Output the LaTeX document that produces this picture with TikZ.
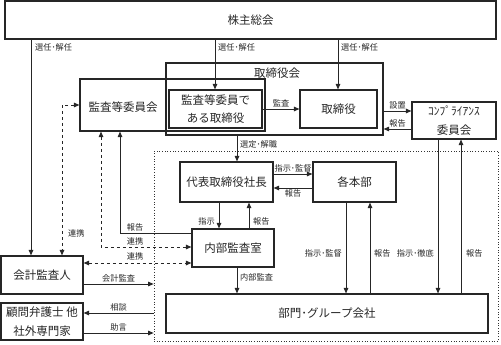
\documentclass[tikz,border=0pt]{standalone}
\usepackage{fontspec}
\setmainfont{Noto Sans CJK JP}
\usetikzlibrary{arrows.meta}
\tikzset{
  box/.style={draw=black!85, line width=1.1pt, inner sep=0pt, align=center,
    font=\fontsize{11.5}{18.5}\selectfont, text=black!85},
  grp/.style={draw=black!80, line width=0.7pt, dotted, inner sep=0pt},
  lbl/.style={font=\fontsize{8.2}{9}\selectfont, inner sep=1pt, text=black!85},
  arr/.style={draw=black!85, line width=0.9pt, -{Triangle[length=5.5pt,width=4.5pt]}},
  darr/.style={draw=black!85, line width=0.9pt, dashed, dash pattern=on 3.5pt off 2.5pt,
    {Triangle[length=5.5pt,width=4.5pt]}-{Triangle[length=5.5pt,width=4.5pt]}},
  ln/.style={draw=black!85, line width=0.9pt}
}
\begin{document}
\begin{tikzpicture}[x=1pt,y=-1pt]
\useasboundingbox (0,0) rectangle (501,345);
% boxes
\node[box, minimum width=491pt, minimum height=38pt] (kabu) at (250.5,20) {株主総会};
\node[box, minimum width=217pt, minimum height=72pt] (torikai) at (274.5,99) {};
\node[box, font=\fontsize{11.5}{14}\selectfont, draw=none] (torikailbl) at (277,73) {取締役会};
\node[box, minimum width=185pt, minimum height=52pt] (kansakai) at (172.5,105) {};
\node[box, draw=none] (kansakailbl) at (123,107) {監査等委員会};
\node[box, minimum width=93pt, minimum height=38pt] (inner) at (215.5,109) {監査等委員で\\ある取締役};
\node[box, minimum width=77pt, minimum height=38pt] (tori) at (338.5,109) {取締役};
\node[box, minimum width=84pt, minimum height=37pt] (comp) at (454,120.5) {ｺﾝﾌﾟﾗｲｱﾝｽ\\委員会};
\node[grp, minimum width=344pt, minimum height=190pt] (grp) at (326,246) {};
\node[box, minimum width=93pt, minimum height=40pt] (shacho) at (226.5,182) {代表取締役社長};
\node[box, minimum width=83pt, minimum height=40pt] (honbu) at (354.5,182) {各本部};
\node[box, minimum width=82pt, minimum height=38pt] (naibu) at (233,248) {内部監査室};
\node[box, minimum width=82pt, minimum height=38pt] (kaikei) at (42,275) {会計監査人};
\node[box, minimum width=82pt, minimum height=37pt] (komon) at (42,321.5) {顧問弁護士 他\\社外専門家};
\node[box, minimum width=322pt, minimum height=39pt] (bumon) at (327,313.5) {部門･グループ会社};
% helper coordinates
\coordinate (x31) at (31,0);
\coordinate (x215) at (215,0);
\coordinate (x338) at (338,0);
\coordinate (y111) at (0,111);
\coordinate (y129) at (0,129);
\coordinate (x237) at (237,0);
\coordinate (y174) at (0,174);
\coordinate (y188) at (0,188);
\coordinate (x219) at (219,0);
\coordinate (x249) at (249,0);
\coordinate (y233) at (0,233);
\coordinate (x120) at (120,0);
\coordinate (y247) at (0,247);
\coordinate (x101) at (101,0);
\coordinate (y263) at (0,263);
\coordinate (y105) at (0,105);
\coordinate (x62) at (62,0);
\coordinate (y284) at (0,284);
\coordinate (y313) at (0,313);
\coordinate (y333) at (0,333);
\coordinate (x346) at (346,0);
\coordinate (x370) at (370,0);
\coordinate (x438) at (438,0);
\coordinate (x461) at (461,0);
\coordinate (b1) at (120,233);
\coordinate (b2) at (101,247);
\coordinate (b3) at (62,105);
% connectors
\draw[arr] (kabu.south -| x31) -- (kaikei.north -| x31);
\node[lbl, anchor=west] (l1) at (34,47) {選任･解任};
\draw[arr] (kabu.south -| x215) -- (inner.north -| x215);
\node[lbl, anchor=west] (l2) at (217,47) {選任･解任};
\draw[arr] (kabu.south -| x338) -- (tori.north -| x338);
\node[lbl, anchor=west] (l3) at (340,47) {選任･解任};
\draw[arr] (inner.east) -- node[lbl, above=0.5pt] {監査} (tori.west);
\draw[arr] (torikai.east |- y111) -- node[lbl, above=0.5pt] {設置} (comp.west |- y111);
\draw[arr] (comp.west |- y129) -- node[lbl, above=0.5pt] {報告} (torikai.east |- y129);
\draw[arr] (torikai.south -| x237) -- (shacho.north -| x237);
\node[lbl, anchor=west] (l4) at (239,144) {選定･解職};
\draw[arr] (shacho.east |- y174) -- node[lbl, above=0.5pt] {指示･監督} (honbu.west |- y174);
\draw[arr] (honbu.west |- y188) -- node[lbl, below=0.5pt] {報告} (shacho.east |- y188);
\draw[arr] (shacho.south -| x219) -- (naibu.north -| x219);
\node[lbl, anchor=east] (l5) at (216,221) {指示};
\draw[arr] (naibu.north -| x249) -- (shacho.south -| x249);
\node[lbl, anchor=west] (l6) at (252,221) {報告};
\draw[arr] (naibu.west |- y233) -- (b1) -- (kansakai.south -| x120);
\node[lbl] (l7) at (135,227) {報告};
\draw[darr] (kansakai.south -| x101) -- (b2) -- (naibu.west |- y247);
\node[lbl] (l8) at (135,241) {連携};
\draw[darr] (kaikei.east |- y263) -- (naibu.west |- y263);
\node[lbl] (l9) at (135,256) {連携};
\draw[darr] (kansakai.west |- y105) -- (b3) -- (kaikei.north -| x62);
\node[lbl, anchor=west] (l10) at (67,233) {連携};
\draw[arr] (kaikei.east |- y284) -- node[lbl, above=0.5pt] {会計監査} (grp.west |- y284);
\draw[arr] (grp.west |- y313) -- node[lbl, above=0.5pt] {相談} (komon.east |- y313);
\draw[arr] (komon.east |- y333) -- node[lbl, above=0.5pt] {助言} (grp.west |- y333);
\draw[arr] (naibu.south -| x237) -- (bumon.north -| x237);
\node[lbl, anchor=west] (l11) at (239,277) {内部監査};
\draw[arr] (honbu.south -| x346) -- (bumon.north -| x346);
\node[lbl, anchor=east] (l12) at (343,253) {指示･監督};
\draw[arr] (bumon.north -| x370) -- (honbu.south -| x370);
\node[lbl, anchor=west] (l13) at (373,253) {報告};
\draw[arr] (comp.south -| x438) -- (bumon.north -| x438);
\node[lbl, anchor=east] (l14) at (435,253) {指示･徹底};
\draw[arr] (bumon.north -| x461) -- (comp.south -| x461);
\node[lbl, anchor=west] (l15) at (465,253) {報告};
\end{tikzpicture}
\end{document}
